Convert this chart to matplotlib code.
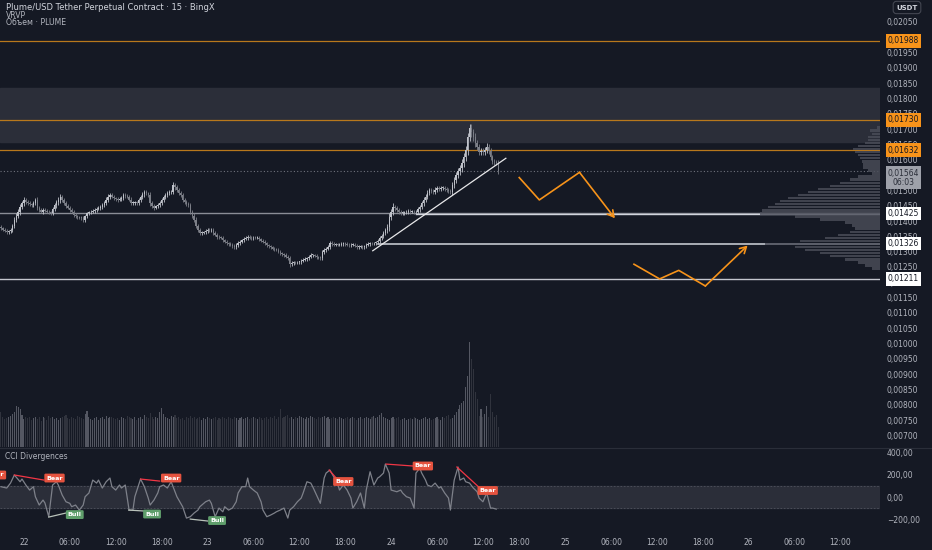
import numpy as np
import matplotlib
matplotlib.use("Agg")
import matplotlib.pyplot as plt
from matplotlib.ticker import FixedLocator, FuncFormatter
from matplotlib.lines import Line2D

BG = "#151924"
TXT = "#b2b5be"
ORANGE = "#f7931a"

# 15m closes, in 0.00001 USDT
closes = [
    1377, 1372, 1368, 1364, 1366, 1371, 1385, 1404, 1418, 1430,
    1446, 1458, 1469, 1462, 1459, 1455, 1452, 1459, 1469, 1443,
    1436, 1430, 1436, 1433, 1430, 1428, 1426, 1440, 1452, 1462,
    1469, 1479, 1468, 1459, 1450, 1443, 1436, 1430, 1420, 1416,
    1413, 1411, 1410, 1404, 1415, 1426, 1428, 1430, 1433, 1436,
    1440, 1443, 1446, 1452, 1459, 1470, 1479, 1485, 1480, 1475,
    1472, 1469, 1472, 1475, 1485, 1482, 1479, 1470, 1459, 1459,
    1461, 1459, 1468, 1479, 1488, 1495, 1490, 1485, 1459, 1450,
    1443, 1448, 1452, 1459, 1468, 1479, 1486, 1492, 1494, 1495,
    1518, 1510, 1501, 1492, 1485, 1469, 1462, 1456, 1452, 1430,
    1418, 1404, 1385, 1371, 1361, 1362, 1364, 1368, 1371, 1370,
    1371, 1361, 1355, 1348, 1347, 1345, 1338, 1333, 1328, 1325,
    1322, 1318, 1315, 1322, 1328, 1332, 1337, 1342, 1345, 1348,
    1345, 1344, 1346, 1345, 1345, 1340, 1336, 1332, 1327, 1321,
    1318, 1315, 1310, 1308, 1306, 1300, 1295, 1292, 1289, 1284,
    1279, 1260, 1263, 1266, 1265, 1266, 1266, 1270, 1273, 1276,
    1279, 1284, 1289, 1289, 1286, 1282, 1280, 1279, 1299, 1306,
    1310, 1315, 1328, 1325, 1322, 1323, 1322, 1322, 1325, 1328,
    1325, 1322, 1321, 1322, 1322, 1319, 1315, 1316, 1318, 1315,
    1318, 1322, 1325, 1328, 1327, 1328, 1331, 1335, 1345, 1352,
    1361, 1370, 1381, 1413, 1430, 1446, 1442, 1436, 1430, 1426,
    1426, 1428, 1430, 1432, 1430, 1430, 1428, 1430, 1438, 1446,
    1458, 1469, 1480, 1492, 1501, 1497, 1495, 1502, 1508, 1506,
    1508, 1508, 1505, 1501, 1498, 1495, 1518, 1535, 1550, 1562,
    1573, 1590, 1609, 1632, 1674, 1704, 1690, 1674, 1655, 1642,
    1626, 1628, 1626, 1632, 1642, 1630, 1609, 1593, 1592, 1590,
    1564,
]
# wick length beyond the body, 0.00001 USDT
wicks = [
    6, 5, 5, 6, 5, 6, 7, 8, 7, 8, 9, 8, 8, 7, 6, 6, 5, 6, 7, 8,
    6, 5, 6, 5, 5, 6, 5, 7, 7, 8, 8, 9, 7, 6, 6, 5, 6, 5, 6, 5,
    5, 5, 5, 6, 6, 5, 5, 5, 5, 6, 6, 5, 6, 6, 7, 7, 8, 8, 6, 5,
    5, 6, 5, 6, 7, 6, 5, 6, 7, 6, 5, 6, 6, 7, 7, 8, 6, 6, 9, 7,
    6, 5, 6, 6, 7, 7, 6, 6, 6, 6, 8, 7, 7, 6, 6, 7, 6, 6, 6, 8,
    7, 8, 8, 7, 6, 5, 5, 5, 6, 5, 6, 6, 5, 5, 5, 5, 6, 5, 5, 5,
    5, 5, 6, 6, 6, 5, 5, 5, 5, 6, 5, 5, 5, 5, 5, 5, 5, 5, 5, 5,
    5, 5, 5, 5, 5, 5, 5, 5, 5, 6, 6, 8, 6, 5, 5, 5, 5, 5, 5, 5,
    5, 5, 6, 5, 5, 5, 5, 5, 7, 6, 6, 6, 7, 6, 5, 5, 5, 5, 5, 5,
    5, 5, 5, 5, 5, 5, 5, 5, 5, 5, 5, 5, 5, 5, 5, 5, 5, 5, 6, 7,
    7, 8, 10, 12, 10, 9, 8, 7, 7, 6, 6, 6, 6, 6, 6, 5, 6, 6, 7, 7,
    8, 8, 8, 8, 8, 7, 7, 8, 8, 7, 7, 7, 7, 7, 8, 8, 9, 10, 10, 10,
    10, 12, 12, 14, 15, 14, 14, 12, 12, 10, 10, 9, 9, 10, 10, 10, 9, 8, 8, 8,
    8,
]
wick_high = {90: 1528, 205: 1459, 236: 1522, 245: 1712, 254: 1655}
wick_low = {151: 1250, 260: 1555}

volumes = [
    35, 30, 28, 29, 30, 31, 33, 35, 41, 40, 38, 32, 28, 30, 29, 30, 27, 29, 30, 28,
    30, 26, 30, 29, 27, 31, 29, 30, 28, 29, 27, 29, 30, 31, 32, 29, 28, 30, 29, 28,
    31, 30, 29, 28, 33, 36, 30, 28, 27, 29, 30, 27, 29, 30, 28, 31, 29, 30, 30, 29,
    28, 29, 27, 30, 29, 28, 31, 30, 29, 28, 30, 27, 29, 30, 28, 32, 30, 29, 34, 30,
    28, 30, 29, 35, 39, 33, 30, 29, 28, 31, 30, 32, 29, 30, 28, 29, 27, 30, 29, 31,
    29, 30, 28, 29, 30, 27, 29, 28, 30, 29, 28, 29, 30, 27, 29, 28, 30, 29, 28, 30,
    29, 28, 30, 29, 27, 29, 30, 28, 29, 30, 28, 29, 30, 29, 28, 30, 29, 27, 29, 30,
    28, 30, 29, 31, 28, 30, 38, 29, 30, 31, 32, 29, 30, 28, 30, 29, 31, 30, 29, 28,
    30, 29, 31, 30, 29, 28, 30, 29, 30, 31, 29, 30, 28, 29, 30, 29, 28, 30, 29, 28,
    29, 30, 28, 29, 30, 29, 27, 29, 30, 28, 29, 30, 29, 28, 30, 31, 29, 30, 32, 34,
    30, 29, 28, 27, 29, 30, 28, 29, 30, 27, 28, 29, 27, 28, 29, 28, 30, 29, 28, 27,
    28, 29, 30, 28, 29, 27, 28, 29, 30, 28, 27, 30, 29, 31, 32, 28, 29, 32, 35, 38,
    42, 44, 46, 60, 71, 105, 88, 78, 55, 48, 31, 38, 30, 33, 41, 30, 53, 35, 30, 32,
    20,
]

# CCI samples (bar index, value)
cci_bar = [0, 3, 5, 7, 10, 11, 13, 15, 17, 18,
           20, 22, 23, 25, 27, 29, 30, 32, 34, 36,
           37, 39, 41, 43, 44, 46, 48, 50, 51, 53,
           55, 57, 58, 60, 62, 63, 65, 67, 69, 70,
           73, 75, 77, 78, 80, 82, 83, 85, 87, 89,
           90, 92, 95, 97, 99, 101, 103, 104, 107, 109,
           110, 112, 114, 116, 117, 119, 121, 123, 124, 126,
           128, 129, 130, 132, 134, 136, 137, 139, 141, 143,
           144, 146, 148, 150, 151, 153, 155, 157, 158, 160,
           162, 163, 165, 167, 169, 170, 172, 174, 176, 177,
           179, 181, 183, 184, 186, 188, 190, 191, 193, 195,
           197, 198, 200, 201, 203, 204, 207, 209, 210, 212,
           214, 216, 217, 219, 220, 222, 223, 225, 227, 229,
           230, 232, 234, 235, 237, 239, 240, 242, 243, 245,
           247, 249, 250, 252, 254, 256, 257, 259]
cci_val = [92, 80, 124, 196, 136, 160, 107, 62, 92, 3,
           -71, -27, -53, -175, 107, 136, 107, 18, -42, -56,
           -86, -71, -116, -71, 3, 36, 151, 124, 151, 80,
           136, 169, 92, 62, 107, 80, 107, -116, -116, 3,
           160, 92, -9, -71, -27, 36, 92, 107, 80, 136,
           92, 3, -86, -187, -175, -142, -116, -86, -42, -27,
           -56, -175, -98, -131, -86, -116, -98, -42, 36, 92,
           92, 169, 92, 62, 36, -42, -116, -175, -160, -142,
           -131, -116, -98, -187, -116, -86, -42, -9, 36, 136,
           124, 92, 18, -56, 169, 213, 240, 180, 124, 62,
           107, 62, -9, -98, -42, 36, -98, 62, 225, 107,
           169, 180, 213, 293, 213, 62, 47, 62, 36, 3,
           -9, -98, 213, 258, 213, 151, 107, 92, 124, 80,
           92, 36, -9, -116, 151, 267, 151, 169, 136, 124,
           80, 47, -9, -42, 36, -98, -98, -107]

bear_lines = [((7, 196), (22.4, 151)), ((73, 160), (83, 142)), ((171.6, 240), (175.3, 169)),
              ((201.4, 293), (215.4, 276)), ((238.4, 267), (250.4, 80))]
bear_labels = [(-2.6, 196), (28, 169), (89, 169), (179, 138), (220.6, 276), (254.5, 58)]
bull_lines = [((25, -178), (34, -142)), ((66.8, -116), (74.6, -124)), ((99, -196), (108, -213))]
bull_labels = [(38.6, -156), (79, -151), (113, -209)]

# volume profile (price bin in 0.00001, length in px)
prof_price = list(range(1705, 1240, -10))
prof_len = [3, 10, 8, 12, 12, 15, 22, 27, 25, 22, 20, 18, 17, 17, 12, 8, 22, 30, 40, 50,
            62, 72, 82, 92, 100, 105, 112, 118, 120, 85, 60, 35, 28, 25, 30, 42, 55, 80, 115, 85,
            75, 60, 50, 35, 22, 15, 8]

price_ticks = list(range(700, 2051, 50))  # 0.00001 USDT

# drawings
zone = (0.01658, 0.01835)
orange_levels = [0.01988, 0.01730, 0.01632]
last_price = 0.01564
trend = ([194.4, 264.0], [0.01303, 0.01605])
path_down = ([271, 281.5, 302.5, 321], [0.01542, 0.01469, 0.01559, 0.01409])
path_up = ([331, 344.4, 354.4, 368.3, 390.4], [0.01259, 0.01211, 0.01239, 0.01188, 0.01320])

time_ticks = [12, 36, 60, 84, 108, 132, 156, 180, 204, 228, 252, 271, 295, 319, 343, 367, 391, 415, 439]
time_labels = ["22", "06:00", "12:00", "18:00", "23", "06:00", "12:00", "18:00", "24",
               "06:00", "12:00", "18:00", "25", "06:00", "12:00", "18:00", "26", "06:00", "12:00"]

W, H = 932, 550
PXB = 1.9125
fig = plt.figure(figsize=(W / 100, H / 100), dpi=100)
fig.patch.set_facecolor(BG)

ax = fig.add_axes([0, 103 / H, 880 / W, 447 / H])
ax.set_facecolor(BG)
xlim = (-0.5, 880 / PXB - 0.5)
ax.set_xlim(*xlim)
ax.set_ylim(0.006622, 0.021218)
for s in ax.spines.values():
    s.set_visible(False)

ax.axhspan(zone[0], zone[1], color="#2b2e39", zorder=0)
for lv in orange_levels:
    ax.axhline(lv, color="#b8781c", lw=0.9, zorder=1)
ax.axhline(last_price, color="#6f727c", lw=0.8, ls=(0, (1, 2)), zorder=1)
ax.axhline(0.01425, color="#8a8d96", lw=1.0, zorder=1)
ax.plot([217, xlim[1]], [0.01422, 0.01422], color="#d1d4dc", lw=1.0, zorder=1)
ax.plot([197, xlim[1]], [0.01326, 0.01326], color="#c3c6ce", lw=1.2, zorder=1)
ax.axhline(0.01211, color="#c3c6ce", lw=1.0, zorder=1)

# candles
n = min(len(closes), len(wicks))
c = np.array(closes[:n]) / 1e5
w = np.array(wicks[:n]) / 1e5
o = np.concatenate([[c[0] + 0.00004], c[:-1]])
xb = np.arange(n)
lo = np.minimum(o, c)
hi = np.maximum(o, c)
hgt = np.maximum(hi - lo, 0.00002)
top = hi + w
bot = lo - w
for i, v in wick_high.items():
    top[i] = max(top[i], v / 1e5)
for i, v in wick_low.items():
    bot[i] = min(bot[i], v / 1e5)
cols = np.where(c >= o, "#bfc2ca", "#7c7f88")
ax.vlines(xb, bot, top, colors=cols, lw=0.6, zorder=3)
ax.bar(xb, hgt, bottom=lo, width=0.7, color=cols, lw=0, zorder=3)

ax.plot(trend[0], trend[1], color="#e8e8ea", lw=0.9, zorder=4)
for path in (path_down, path_up):
    ax.plot(path[0][:-1], path[1][:-1], color=ORANGE, lw=1.2, zorder=4)
    ax.annotate("", xy=(path[0][-1], path[1][-1]), xytext=(path[0][-2], path[1][-2]),
                arrowprops=dict(arrowstyle="->,head_length=0.45,head_width=0.25", color=ORANGE, lw=1.2,
                                shrinkA=0, shrinkB=0), zorder=4)

# volume
axv = ax.twinx()
axv.set_ylim(0, 447)
vcols = np.where(c >= o, "#545762", "#30333d")
nv = min(n, len(volumes))
axv.bar(xb[:nv], volumes[:nv], width=0.55, color=vcols[:nv], lw=0, zorder=2)
axv.axis("off")

# VRVP
axp = ax.twiny()
axp.set_xlim(880, 0)
axp.barh(np.array(prof_price) / 1e5, prof_len, height=0.00008, left=0, color="#55586342", lw=0)
axp.barh(np.array(prof_price) / 1e5, prof_len, height=0.00008, left=0, color="#4a4d58", alpha=0.75, lw=0)
axp.axis("off")

# twinx moved the ticks to the left, put them back
ax.yaxis.tick_right()
ax.yaxis.set_major_locator(FixedLocator(np.array(price_ticks) / 1e5))
ax.yaxis.set_major_formatter(FuncFormatter(lambda v, p: f"{v:.5f}".replace(".", ",")))
ax.tick_params(axis="y", length=0, pad=5, labelsize=5.5, labelcolor=TXT)
ax.set_xticks([])

# price tags on axis
tr = ax.get_yaxis_transform()
tags = [(0.01988, "0,01988", ORANGE, "#131722"), (0.01730, "0,01730", ORANGE, "#131722"),
        (0.01632, "0,01632", ORANGE, "#131722"), (0.01564, "0,01564\n06:03", "#9ea1aa", "#2a2e39"),
        (0.01425, "0,01425", "#ffffff", "#131722"), (0.01326, "0,01326", "#ffffff", "#131722"),
        (0.01211, "0,01211", "#ffffff", "#131722")]
for y, s, fc, tc in tags:
    off = -0.00023 if "\n" in s else 0
    ax.text(1.0267, y + off, s, transform=tr, ha="center", va="center", fontsize=5.5, color=tc,
            linespacing=1.1, clip_on=False, zorder=10,
            bbox=dict(boxstyle="square,pad=0.28", fc=fc, ec="none"))

# CCI pane
axc = fig.add_axes([0, 20 / H, 880 / W, 82 / H])
axc.set_facecolor(BG)
axc.set_xlim(*xlim)
axc.set_ylim(-293, 436)
for s in axc.spines.values():
    s.set_visible(False)
axc.axhspan(-100, 100, color="#2b2e39", zorder=0)
axc.axhline(100, color="#50535e", lw=0.6, ls=(0, (2, 2)))
axc.axhline(-100, color="#50535e", lw=0.6, ls=(0, (2, 2)))
axc.plot(cci_bar, cci_val, color="#7e818a", lw=0.9, zorder=3)
for (a, b) in bear_lines:
    axc.plot([a[0], b[0]], [a[1], b[1]], color="#f23645", lw=0.9, zorder=4)
for (a, b) in bull_lines:
    axc.plot([a[0], b[0]], [a[1], b[1]], color="#b9c2ba", lw=0.9, zorder=4)
for x, y in bear_labels:
    axc.text(x, y, "Bear", ha="center", va="center", fontsize=4.6, color="white", weight="bold",
             zorder=6, clip_on=True, bbox=dict(boxstyle="round,pad=0.3,rounding_size=0.2", fc="#e5533f", ec="none"))
for x, y in bull_labels:
    axc.text(x, y, "Bull", ha="center", va="center", fontsize=4.6, color="white", weight="bold",
             zorder=6, bbox=dict(boxstyle="round,pad=0.3,rounding_size=0.2", fc="#5f9e6b", ec="none"))
axc.yaxis.tick_right()
axc.set_yticks([400, 200, 0, -200])
axc.set_yticklabels(["400,00", "200,00", "0,00", "\u2212200,00"])
axc.tick_params(axis="y", length=0, pad=5, labelsize=5.5, labelcolor=TXT)
axc.set_xticks(time_ticks)
axc.set_xticklabels(time_labels)
axc.tick_params(axis="x", length=0, pad=6, labelsize=5.5, labelcolor=TXT)
axc.text(5 / 880, 0.9, "CCI Divergences", transform=axc.transAxes, fontsize=5.5, color=TXT, va="center")

fig.add_artist(Line2D([0, 1], [1 - 447.5 / H] * 2, color="#2a2e39", lw=0.8))

fig.text(6 / W, 1 - 7 / H, "Plume/USD Tether Perpetual Contract · 15 · BingX", fontsize=6.0,
         color="#d1d4dc", va="center")
fig.text(6 / W, 1 - 15 / H, "VRVP", fontsize=5.6, color=TXT, va="center")
fig.text(6 / W, 1 - 22.6 / H, "Объем · PLUME", fontsize=5.6, color=TXT, va="center")
fig.text(907 / W, 1 - 7.5 / H, "USDT", ha="center", va="center", fontsize=5, color="#d1d4dc",
         weight="bold", bbox=dict(boxstyle="round,pad=0.45", fc=BG, ec="#434651", lw=0.8))

fig.savefig("out.png", dpi=100, facecolor=BG)
